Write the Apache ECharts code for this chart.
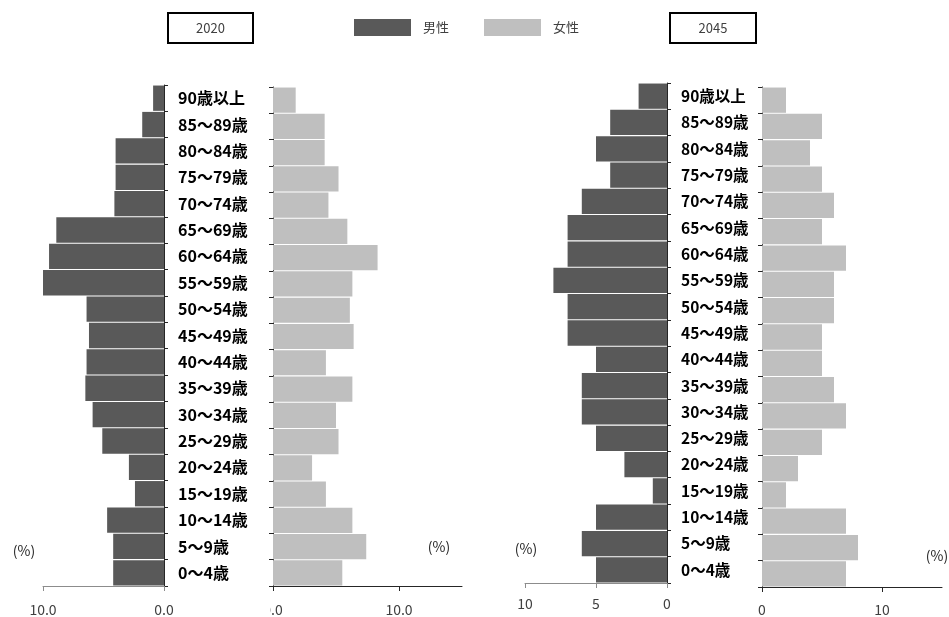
<!DOCTYPE html>
<html><head><meta charset="utf-8">
<script src="https://cdn.jsdelivr.net/npm/echarts@6/dist/echarts.min.js"></script>
<style>html,body{margin:0;padding:0;background:#fff;}#c{width:949px;height:617px;}</style>
</head><body><div id="c"></div>
<script>
const categories = ['0～4歳','5～9歳','10～14歳','15～19歳','20～24歳','25～29歳','30～34歳','35～39歳','40～44歳','45～49歳','50～54歳','55～59歳','60～64歳','65～69歳','70～74歳','75～79歳','80～84歳','85～89歳','90歳以上'];
const male2020   = [4.2,4.2,4.7,2.4,2.9,5.1,5.9,6.5,6.4,6.2,6.4,10.0,9.5,8.9,4.1,4.0,4.0,1.8,0.9];
const female2020 = [5.5,7.4,6.3,4.2,3.1,5.2,5.0,6.3,4.2,6.4,6.1,6.3,8.3,5.9,4.4,5.2,4.1,4.1,1.8];
const male2045   = [5,6,5,1,3,5,6,6,5,7,7,8,7,7,6,4,5,4,2];
const female2045 = [7,8,7,2,3,5,7,6,5,5,6,6,7,5,6,5,4,5,2];
const yearLabels = ['2020','2045'];
const seriesNames = ['男性','女性'];

const FONT = '"Noto Sans CJK JP", "Noto Sans", sans-serif';
const MALE = '#595959', FEMALE = '#bfbfbf';

const chart = echarts.init(document.getElementById('c'));

function xAxisCfg(grid, max, ticks, fmt, inverse, lineColor, margin) {
  return {
    type: 'value', gridIndex: grid, min: 0, max: max, inverse: inverse,
    splitLine: {show: false},
    axisLine: {show: true, lineStyle: {color: lineColor, width: 1}},
    axisTick: {show: true, length: 5, customValues: ticks, lineStyle: {color: lineColor}},
    axisLabel: {customValues: ticks, formatter: fmt, color: '#404040', fontSize: 14, fontFamily: FONT, margin: margin}
  };
}
function yAxisCfg(grid, pos, showLabel, labelSize) {
  return {
    type: 'category', gridIndex: grid, data: categories, position: pos,
    axisLine: {show: true, lineStyle: {color: '#262626', width: 1}},
    axisTick: {show: true, length: 4, lineStyle: {color: '#262626'}},
    axisLabel: {show: showLabel, align: 'left', margin: 14, color: '#000', fontWeight: 'bold', fontSize: labelSize, fontFamily: FONT}
  };
}
const f1 = v => v.toFixed(1);
const f0 = v => String(Math.round(v));

chart.setOption({
  animation: false,
  textStyle: {fontFamily: FONT},
  legend: {
    data: seriesNames, left: 349, top: 14, itemWidth: 57, itemHeight: 17, itemGap: 35,
    icon: 'rect',
    textStyle: {fontSize: 13, color: '#404040', padding: [0,0,0,7], fontFamily: FONT}
  },
  grid: [
    {left: 43,  top: 85, width: 121, height: 502},
    {left: 273, top: 87, width: 189, height: 500},
    {left: 525, top: 83, width: 142, height: 500},
    {left: 762, top: 87, width: 180, height: 500}
  ],
  xAxis: [
    xAxisCfg(0, 10, [0,10], f1, true, '#8c8c8c', 17),
    xAxisCfg(1, 15, [0,10], f1, false, '#262626', 17),
    xAxisCfg(2, 10, [0,5,10], f0, true, '#8c8c8c', 14),
    xAxisCfg(3, 15, [0,10], f0, false, '#262626', 16)
  ],
  yAxis: [
    yAxisCfg(0, 'right', true, 16),
    yAxisCfg(1, 'left', false, 16),
    yAxisCfg(2, 'right', true, 15.5),
    yAxisCfg(3, 'left', false, 15.5)
  ],
  series: [
    {name: seriesNames[0], type: 'bar', xAxisIndex: 0, yAxisIndex: 0, data: male2020, barCategoryGap: '4%', itemStyle: {color: MALE}},
    {name: seriesNames[1], type: 'bar', xAxisIndex: 1, yAxisIndex: 1, data: female2020, barCategoryGap: '4%', itemStyle: {color: FEMALE}},
    {name: seriesNames[0], type: 'bar', xAxisIndex: 2, yAxisIndex: 2, data: male2045, barCategoryGap: '4%', itemStyle: {color: MALE}},
    {name: seriesNames[1], type: 'bar', xAxisIndex: 3, yAxisIndex: 3, data: female2045, barCategoryGap: '4%', itemStyle: {color: FEMALE}}
  ],
  graphic: [
    {type: 'rect', z: 100, shape: {x: 168, y: 13, width: 85, height: 30}, style: {fill: '#fff', stroke: '#000', lineWidth: 2}},
    {type: 'text', z: 101, x: 210.5, y: 28, style: {text: yearLabels[0], fill: '#404040', font: '13px ' + FONT, align: 'center', verticalAlign: 'middle'}},
    {type: 'rect', z: 100, shape: {x: 670, y: 13, width: 86, height: 30}, style: {fill: '#fff', stroke: '#000', lineWidth: 2}},
    {type: 'text', z: 101, x: 713, y: 28, style: {text: yearLabels[1], fill: '#404040', font: '13px ' + FONT, align: 'center', verticalAlign: 'middle'}},
    {type: 'text', z: 101, x: 24, y: 551, style: {text: '(%)', fill: '#262626', font: '14px ' + FONT, align: 'center', verticalAlign: 'middle'}},
    {type: 'text', z: 101, x: 439, y: 547, style: {text: '(%)', fill: '#262626', font: '14px ' + FONT, align: 'center', verticalAlign: 'middle'}},
    {type: 'text', z: 101, x: 526, y: 549, style: {text: '(%)', fill: '#262626', font: '14px ' + FONT, align: 'center', verticalAlign: 'middle'}},
    {type: 'text', z: 101, x: 937, y: 556, style: {text: '(%)', fill: '#262626', font: '14px ' + FONT, align: 'center', verticalAlign: 'middle'}},
    {type: 'rect', z: 100, shape: {x: 250, y: 598, width: 20, height: 19}, style: {fill: '#fff'}}
  ]
});
</script></body></html>
